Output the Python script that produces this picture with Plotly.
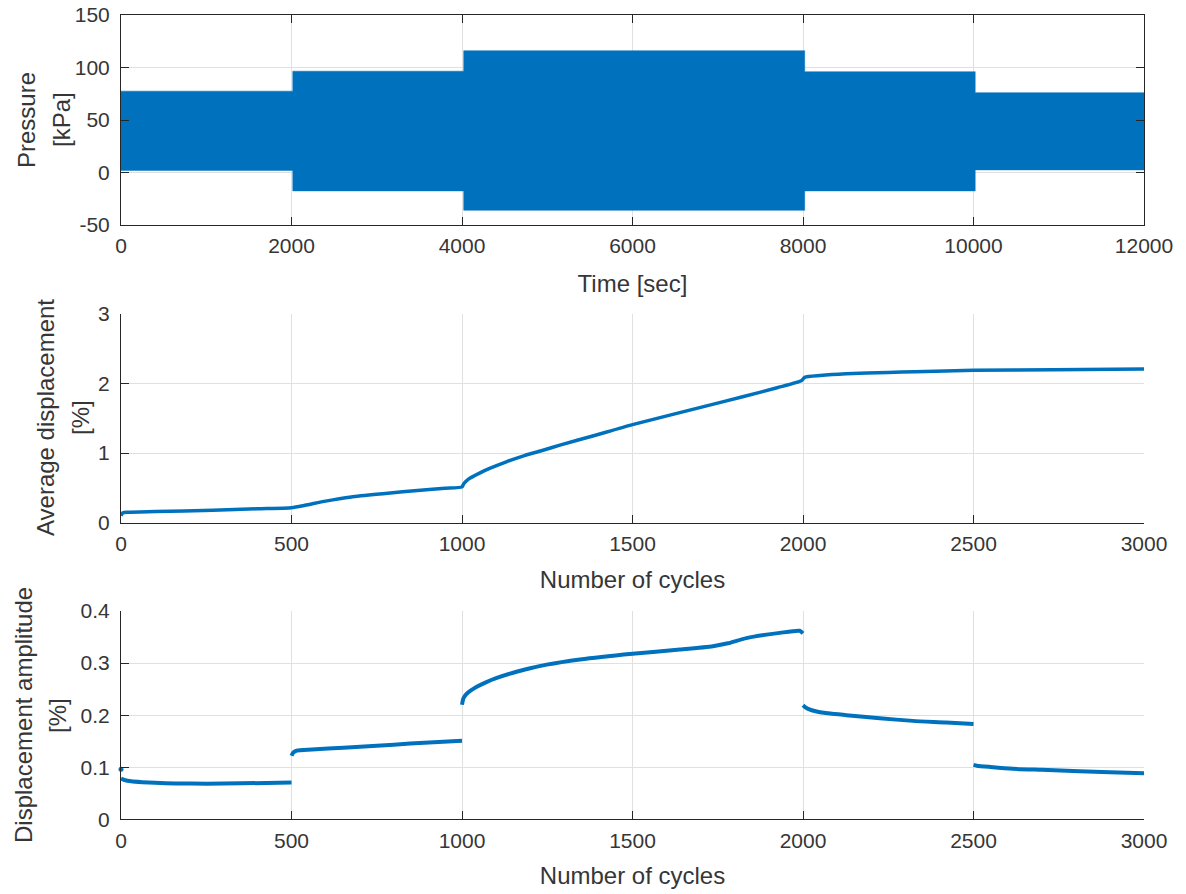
import plotly.graph_objects as go

# ---------------- data ----------------
# Pressure loading blocks (envelope of the cyclic signal)
seg_t0 = [0, 2015, 4020, 8020, 10020]
seg_t1 = [2015, 4020, 8020, 10020, 12000]
p_max = [77.5, 96.5, 116.0, 96.0, 76.0]
p_min = [2.0, -17.5, -36.0, -17.5, 2.5]

# Average displacement [%]
avg_n = [0, 5, 20, 100, 269, 400, 500, 540, 600, 675, 775, 878, 950, 1000, 1005, 1020,
         1050, 1081, 1130, 1183, 1240, 1287, 1386, 1500, 1726, 1823, 1924, 1995, 2005,
         2050, 2126, 2250, 2328, 2500, 2732, 3000]
avg_v = [0.10, 0.14, 0.15, 0.16, 0.18, 0.20, 0.215, 0.25, 0.31, 0.37, 0.42, 0.468, 0.495,
         0.515, 0.56, 0.63, 0.71, 0.78, 0.875, 0.965, 1.045, 1.115, 1.25, 1.41, 1.69, 1.81,
         1.94, 2.04, 2.09, 2.115, 2.14, 2.16, 2.17, 2.19, 2.20, 2.21]

# Displacement amplitude [%], five loading stages
amp1_n = [0, 10, 30, 62, 100, 160, 250, 350, 500]
amp1_v = [0.078, 0.0755, 0.073, 0.0713, 0.0700, 0.0688, 0.0685, 0.069, 0.0707]
amp2_n = [500, 505, 515, 560, 652, 750, 848, 1000]
amp2_v = [0.122, 0.128, 0.132, 0.134, 0.1376, 0.141, 0.1455, 0.151]
amp3_n = [1000, 1004, 1012, 1025, 1042, 1070, 1100, 1150, 1200, 1248, 1346,
          1500, 1639, 1736, 1780, 1834, 1932, 1990, 2000]
amp3_v = [0.220, 0.232, 0.240, 0.247, 0.254, 0.263, 0.271, 0.2815, 0.290,
          0.297, 0.307, 0.318, 0.326, 0.3325, 0.338, 0.348, 0.358, 0.362, 0.357]
amp4_n = [2000, 2005, 2015, 2040, 2080, 2127, 2225, 2322, 2420, 2500]
amp4_v = [0.219, 0.216, 0.212, 0.207, 0.203, 0.200, 0.194, 0.189, 0.186, 0.183]
amp5_n = [2500, 2510, 2550, 2615, 2700, 2811, 2900, 3000]
amp5_v = [0.1045, 0.103, 0.1005, 0.097, 0.095, 0.0924, 0.0905, 0.0885]
amp_outlier_n = [0]
amp_outlier_v = [0.096]

p_ticks = [-50, 0, 50, 100, 150]
p_ticktext = ["-50", "0", "50", "100", "150"]

# ---------------- style ----------------
BLUE = "#0072BD"
TXT = "#363636"
GRID = "#e0e0e0"
FONT = "Liberation Sans, Arial, sans-serif"
W, H = 1186, 894

fig = go.Figure()

# pressure band polygon from envelope arrays
px, py = [], []
for a, b, hi in zip(seg_t0, seg_t1, p_max):
    px += [a, b]
    py += [hi, hi]
for a, b, lo in zip(reversed(seg_t0), reversed(seg_t1), reversed(p_min)):
    px += [b, a]
    py += [lo, lo]
fig.add_trace(go.Scatter(x=px, y=py, mode="lines", fill="toself", fillcolor=BLUE,
                         line=dict(color=BLUE, width=0.5), xaxis="x", yaxis="y",
                         showlegend=False, hoverinfo="skip"))

fig.add_trace(go.Scatter(x=avg_n, y=avg_v, mode="lines",
                         line=dict(color=BLUE, width=3.5, shape="spline", smoothing=0.6),
                         xaxis="x2", yaxis="y2", showlegend=False))

an, av = [], []
for n_, v_ in [(amp1_n, amp1_v), (amp2_n, amp2_v), (amp3_n, amp3_v), (amp4_n, amp4_v), (amp5_n, amp5_v)]:
    an += n_ + [None]
    av += v_ + [None]
fig.add_trace(go.Scatter(x=an, y=av, mode="lines", connectgaps=False,
                         line=dict(color=BLUE, width=4, shape="spline", smoothing=0.6),
                         xaxis="x3", yaxis="y3", showlegend=False))
fig.add_trace(go.Scatter(x=amp_outlier_n, y=amp_outlier_v, mode="markers",
                         marker=dict(color=BLUE, size=5), xaxis="x3", yaxis="y3",
                         showlegend=False, cliponaxis=False))

xd = [121 / W, 1144 / W]
def yd(top, bot):
    return [1 - bot / H, 1 - top / H]

common = dict(showgrid=True, gridcolor=GRID, gridwidth=1, showline=True, linecolor="#262626",
              linewidth=1, ticks="inside", ticklen=8, tickcolor="#262626", automargin=False,
              tickfont=dict(family=FONT, size=21, color=TXT), zeroline=False)
tfont = dict(family=FONT, size=24, color=TXT)

fig.update_layout(
    width=W, height=H, margin=dict(l=0, r=0, t=0, b=0),
    plot_bgcolor="white", paper_bgcolor="white",
    xaxis=dict(domain=xd, anchor="y", range=[0, 12000], tick0=0, dtick=2000, mirror="ticks",
               tickformat="d", ticklabelstandoff=2,
               title=dict(text="Time [sec]", font=tfont, standoff=18), **common),
    yaxis=dict(domain=yd(15, 225), anchor="x", range=[-50, 150], tickvals=p_ticks,
               ticktext=p_ticktext, mirror="ticks", ticklabelstandoff=6, **common),
    xaxis2=dict(domain=xd, anchor="y2", range=[0, 3000], tick0=0, dtick=500,
                ticklabelstandoff=2,
                title=dict(text="Number of cycles", font=tfont, standoff=17), **common),
    yaxis2=dict(domain=yd(314, 522.7), anchor="x2", range=[0, 3], dtick=1,
                ticklabelstandoff=6, **common),
    xaxis3=dict(domain=xd, anchor="y3", range=[0, 3000], tick0=0, dtick=500,
                ticklabelstandoff=2,
                title=dict(text="Number of cycles", font=tfont, standoff=16), **common),
    yaxis3=dict(domain=yd(611, 819.3), anchor="x3", range=[0, 0.4], dtick=0.1,
                ticklabelstandoff=6, **common),
)

# two-line y-axis labels (MATLAB-style wider line spacing)
ylabels = [("Pressure", 26, 120), ("[kPa]", 61, 120),
           ("Average displacement", 46, 418), ("[%]", 81, 418),
           ("Displacement amplitude", 23, 715), ("[%]", 57, 715)]
for txt, x_px, y_px in ylabels:
    fig.add_annotation(text=txt, x=x_px / W, y=1 - y_px / H, xref="paper", yref="paper",
                       xanchor="center", yanchor="middle", textangle=-90, showarrow=False,
                       font=tfont)

fig.write_html("out.html")
